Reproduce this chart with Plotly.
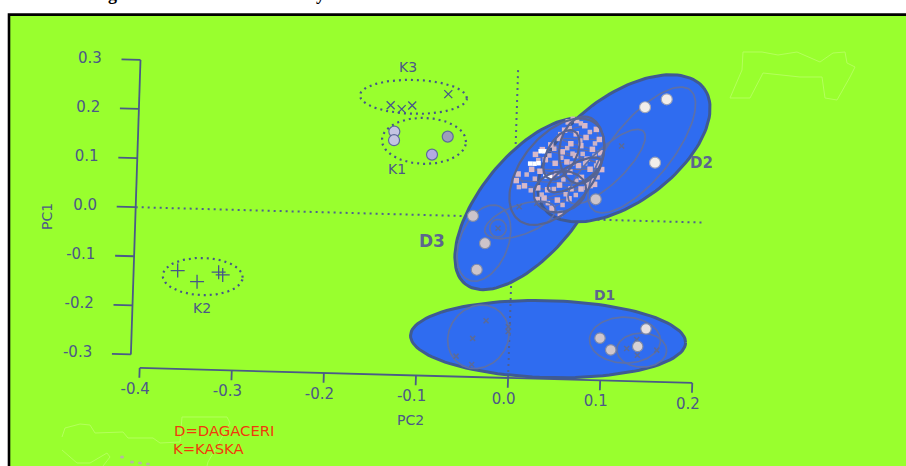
import numpy as np
import plotly.graph_objects as go

W, H = 906, 466

# ---- tick values ----
pc2_ticks = [-0.4, -0.3, -0.2, -0.1, 0.0, 0.1, 0.2]
pc1_ticks = [-0.3, -0.2, -0.1, 0.0, 0.1, 0.2, 0.3]
pc2_labels = ["-0.4", "-0.3", "-0.2", "-0.1", "0.0", "0.1", "0.2"]
pc1_labels = ["-0.3", "-0.2", "-0.1", "0.0", "0.1", "0.2", "0.3"]

# ---- scores (PC2, PC1) ----
k1_pc2 = [-0.1321, -0.1321, -0.0740, -0.0904]
k1_pc1 = [0.1680, 0.1505, 0.1608, 0.1233]
k1_fill = ["#c4c4e2", "#c4c4e2", "#9d9dba", "#b4aae2"]
k2_pc2 = [-0.3622, -0.3408, -0.3177, -0.3132]
k2_pc1 = [-0.1268, -0.1482, -0.1278, -0.1331]
k3_pc2 = [-0.1370, -0.1249, -0.1136, -0.0749]
k3_pc1 = [0.2216, 0.2141, 0.2220, 0.2472]
d2_pc2 = [0.1390, 0.1623, 0.1518]
d2_pc1 = [0.2314, 0.2488, 0.1191]
d3_pc2 = [0.0888, -0.0438, -0.0298, -0.0378]
d3_pc1 = [0.0414, 0.0007, -0.0542, -0.1085]
d1_pc2 = [0.1479, 0.0983, 0.1104, 0.1395]
d1_pc1 = [-0.2195, -0.2409, -0.2642, -0.2557]
d_fill = ["#e6e0e2", "#cfc6cc", "#cfc6cc", "#d8d2d4"]

# small dark marks inside the D groups
marks_pc2 = [0.1276, 0.1382, 0.1603, 0.1394, -0.0259, -0.0398, -0.0572, -0.0400,
             -0.0015, -0.0015, 0.1150, -0.0162, 0.0060, 0.0250]
marks_pc1 = [-0.2604, -0.2416, -0.2622, -0.2735, -0.2119, -0.2484, -0.2854, -0.3015,
             -0.2229, -0.2325, 0.1513, -0.0228, 0.0220, 0.0300]

# speckled area of the overlapping central ellipses
speck_pc2 = [.0562, .0653, .0743, .0526, .0653, .0761, .0870, .0906, .0472, .0598, .0707, .0834,
             .0924, .0381, .0508, .0653, .0779, .0906, .0291, .0218, .0327, .0435, .0562, .0689,
             .0816, .0942, .0182, .0273, .0454, .0598, .0725, .0834, .0870, .0019, .0037, .0110,
             .0255, .0363, .0490, .0616, .0725, .0327, .0472, .0598, .0417, .0508, .0255]
speck_pc1 = [.1973, .2006, .1905, .1803, .1735, .1667, .1837, .1633, .1633, .1531, .1497, .1429,
             .1362, .1497, .1362, .1294, .1226, .1158, .1395, .1294, .1192, .1124, .1158, .1090,
             .1022, .1022, .0988, .0954, .0920, .0954, .0852, .0785, .0717, .0751, .0886, .0649,
             .0615, .0581, .0683, .0615, .0615, .0411, .0377, .0411, .0207, .0106, .0377]
speck2_pc2 = [.0610, .0700, .0800, .0580, .0480, .0700, .0860, .0420, .0560, .0620, .0730, .0860,
              .0250, .0370, .0500, .0620, .0760, .0880, .0130, .0220, .0400, .0530, .0670, .0790,
              .0900, .0050, .0180, .0300, .0430, .0560, .0670, .0370, .0530, .0780, .0830, .0810, .0850]
speck2_pc1 = [.2040, .1950, .1780, .1850, .1720, .1600, .1550, .1420, .1440, .1330, .1330, .1300,
              .1180, .1280, .1240, .1130, .1140, .1100, .0880, .0800, .0850, .0800, .0780, .0700,
              .0860, .0620, .0560, .0480, .0600, .0500, .0490, .0310, .0280, .0640, .0680, .0730, .0790]
white_pc2 = [.0164, .0211, .0255, .0273, .0316, .0334, .0381]
white_pc1 = [.1104, .1104, .1117, .1362, .1362, .0852, .0852]

# ellipses: centre (pc2, pc1), semi-axis vector u, semi-axis vector v
dotted_ell = [
    (-0.1126, 0.2398, 0.0580, 0.0, 0.0, 0.0346),
    (-0.0996, 0.1508, 0.0456, 0.0, 0.0, 0.0468),
    (-0.3348, -0.1375, 0.0434, 0.0, 0.0, 0.0379),
]
big_d1 = (0.0420, -0.2457, 0.1493, 0.0, 0.0, 0.0784)
big_d3 = (0.0178, 0.0284, 0.0677, 0.1664, 0.0423, -0.0608)
big_d2 = (0.1176, 0.1467, 0.0847, 0.1265, 0.0360, -0.0850)
central_ell = [
    (0.0457, 0.0954, 0.0399, 0.1005, 0.0312, -0.0439),
    (0.0718, 0.1410, 0.0042, 0.0681, 0.0240, -0.0059),
    (0.0497, 0.0548, 0.0280, 0.0116, 0.0040, -0.0405),
    (0.0500, 0.1300, 0.0120, 0.0500, 0.0150, -0.0100),
    (0.0650, 0.0900, 0.0280, 0.0320, 0.0060, -0.0180),
]
outer_ell = [
    (0.0995, 0.1084, 0.0389, 0.0733, 0.0124, -0.0259),
    (0.1369, 0.1443, 0.0505, 0.1248, 0.0260, -0.0372),
    (-0.0310, -0.0539, 0.0150, 0.0762, 0.0245, -0.0170),
    (0.0074, -0.0049, 0.0375, 0.0270, 0.0059, -0.0282),
    (-0.0162, -0.0228, 0.0090, 0.0, 0.0, 0.0180),
    (-0.0337, -0.2448, 0.0098, 0.0636, 0.0317, -0.0127),
    (0.1255, -0.2436, 0.0385, 0.0, 0.0, 0.0468),
    (0.1440, -0.2630, 0.0271, 0.0, 0.0, 0.0346),
]

# faint map outlines in the background (page pixels)
map_a_x = [743, 762, 778, 797, 820, 833, 845, 847, 855, 850, 837, 825, 822, 800, 763, 750, 730, 742, 743]
map_a_y = [52, 52, 55, 52, 62, 53, 52, 63, 67, 77, 100, 98, 77, 77, 73, 98, 98, 70, 52]
map_b_x = [62, 65, 80, 90, 95, 123, 128, 153, 160, 180, 182, 227, 230, 208, 207]
map_b_y = [437, 428, 424, 425, 433, 432, 438, 438, 443, 442, 417, 417, 423, 462, 466]
map_c_x = [62, 77, 90, 107, 110, 103]
map_c_y = [450, 463, 463, 453, 457, 466]
spot_x = [122, 132, 140, 148]
spot_y = [457, 462, 463, 464]

BLUE = "#2f6cf0"
EDGE = "#3f5a92"
INNER = "#566492"
OUTER = "#5c70a8"
INK = "#4c5888"
GREEN = "#99ff2e"

# the printed axes lean slightly: PC2 rises 25 px/unit, PC1 leans 16 px/unit
LEAN_X = 16 / 921
LEAN_Y = 25 / 491


def lean(a, b):
    a, b = np.asarray(a, float), np.asarray(b, float)
    return a + LEAN_X * b, b - LEAN_Y * a


def ellipse(e):
    t = np.linspace(0, 2 * np.pi, 121)
    cx, cy, ux, uy, vx, vy = e
    return lean(cx + ux * np.cos(t) + vx * np.sin(t), cy + uy * np.cos(t) + vy * np.sin(t))


def segs(pairs):
    xs, ys = [], []
    for (a0, b0), (a1, b1) in pairs:
        x, y = lean([a0, a1], [b0, b1])
        xs += [x[0], x[1], None]
        ys += [y[0], y[1], None]
    return xs, ys


fig = go.Figure()
nolegend = dict(showlegend=False, hoverinfo="skip")

# axes
Y_AXIS, Y_TICK = -0.410, -0.4306
X_AXIS, X_TICK = -0.327, -0.347
pairs = [((Y_AXIS, min(pc1_ticks)), (Y_AXIS, max(pc1_ticks))),
         ((min(pc2_ticks), X_AXIS), (max(pc2_ticks), X_AXIS))]
pairs += [((Y_AXIS, v), (Y_TICK, v)) for v in pc1_ticks]
pairs += [((v, X_AXIS), (v, X_TICK)) for v in pc2_ticks]
x, y = segs(pairs)
fig.add_trace(go.Scatter(x=x, y=y, mode="lines", line=dict(color="#4a5a88", width=1.8), **nolegend))

# tick labels
x, y = lean([Y_AXIS - 0.042] * 7, pc1_ticks)
fig.add_trace(go.Scatter(x=x, y=y, mode="text", text=pc1_labels, textposition="middle left",
                         textfont=dict(family="DejaVu Sans", size=15, color=INK), **nolegend))
x, y = lean(pc2_ticks, [X_AXIS - 0.045] * 7)
fig.add_trace(go.Scatter(x=x - 0.004, y=y, mode="text", text=pc2_labels, textposition="middle center",
                         textfont=dict(family="DejaVu Sans", size=15, color=INK), **nolegend))

# D1 then zero lines then the rest
x, y = ellipse(big_d1)
fig.add_trace(go.Scatter(x=x, y=y, mode="lines", fill="toself", fillcolor=BLUE,
                         line=dict(color=EDGE, width=3), **nolegend))
x, y = segs([((Y_AXIS, 0), (0.208, 0)), ((0, 0.30), (0, -0.325))])
fig.add_trace(go.Scatter(x=x, y=y, mode="lines", line=dict(color="#4f6090", width=2, dash="2px 4px"), **nolegend))
for e in (big_d3, big_d2):
    x, y = ellipse(e)
    fig.add_trace(go.Scatter(x=x, y=y, mode="lines", fill="toself", fillcolor=BLUE,
                             line=dict(color=EDGE, width=3), **nolegend))

# speckles
x, y = lean(speck_pc2, speck_pc1)
fig.add_trace(go.Scatter(x=x, y=y, mode="lines", line=dict(color="#6a6f9a", width=1), **nolegend))
fig.add_trace(go.Scatter(x=x, y=y, mode="markers",
                         marker=dict(symbol="square", size=5.5, color="#d9b9c8", line=dict(width=0)), **nolegend))
x, y = lean(speck2_pc2, speck2_pc1)
fig.add_trace(go.Scatter(x=x, y=y, mode="markers",
                         marker=dict(symbol="square", size=4.5, color="#cdb4c6", line=dict(width=0)), **nolegend))
x, y = lean(white_pc2, white_pc1)
fig.add_trace(go.Scatter(x=x, y=y, mode="markers",
                         marker=dict(symbol="square", size=4.5, color="#ffffff", line=dict(width=0)), **nolegend))

# inner ellipses
for e in outer_ell:
    x, y = ellipse(e)
    fig.add_trace(go.Scatter(x=x, y=y, mode="lines", line=dict(color=OUTER, width=1.7), **nolegend))
for e in central_ell:
    x, y = ellipse(e)
    fig.add_trace(go.Scatter(x=x, y=y, mode="lines", line=dict(color=INNER, width=2.2), **nolegend))

# dotted ellipses of K groups
for e in dotted_ell:
    x, y = ellipse(e)
    fig.add_trace(go.Scatter(x=x, y=y, mode="lines", line=dict(color="#45568a", width=2.2, dash="2px 4px"), **nolegend))

# points
x, y = lean(k3_pc2, k3_pc1)
fig.add_trace(go.Scatter(x=x, y=y, mode="markers",
                         marker=dict(symbol="x-thin", size=8, line=dict(color="#45568a", width=1.3)), **nolegend))
x, y = lean(k2_pc2, k2_pc1)
fig.add_trace(go.Scatter(x=x, y=y, mode="markers",
                         marker=dict(symbol="cross-thin", size=10, line=dict(color="#45568a", width=1.3)), **nolegend))
x, y = lean(marks_pc2, marks_pc1)
fig.add_trace(go.Scatter(x=x, y=y, mode="markers",
                         marker=dict(symbol="x-thin", size=5, line=dict(color="#5a6a98", width=1.5)), **nolegend))
x, y = lean(k1_pc2, k1_pc1)
fig.add_trace(go.Scatter(x=x, y=y, mode="markers",
                         marker=dict(size=11, color=k1_fill, line=dict(color="#5d6b99", width=1.2)), **nolegend))
x, y = lean(d2_pc2, d2_pc1)
fig.add_trace(go.Scatter(x=x, y=y, mode="markers",
                         marker=dict(size=11, color="#f2eeea", line=dict(color="#9aa2b8", width=1.2)), **nolegend))
x, y = lean(d3_pc2, d3_pc1)
fig.add_trace(go.Scatter(x=x, y=y, mode="markers",
                         marker=dict(size=11, color="#cdc4ca", line=dict(color="#7f8aa8", width=1.2)), **nolegend))
x, y = lean(d1_pc2, d1_pc1)
fig.add_trace(go.Scatter(x=x, y=y, mode="markers",
                         marker=dict(size=10.5, color=d_fill, line=dict(color="#7f8aa8", width=1.2)), **nolegend))


def page_text(s, px, py, size=14, color=INK, anchor="center", angle=0, family="DejaVu Sans", weight=None):
    return dict(text=f"<b>{s}</b>" if weight else s, xref="paper", yref="paper", x=px / W, y=1 - py / H,
                xanchor=anchor, yanchor="middle", showarrow=False, textangle=angle,
                font=dict(family=family, size=size, color=color))


annotations = [
    page_text("K3", 408, 67),
    page_text("K1", 397, 169),
    page_text("K2", 202, 308),
    page_text("D1", 604, 295, size=14, color="#5c668e", weight=True),
    page_text("D2", 701, 163, size=15, color="#5c668e", weight=True),
    page_text("D3", 432, 241, size=17, color="#5c668e", weight=True),
    page_text("PC2", 410, 420),
    page_text("PC1", 47, 217, angle=-90),
    page_text("D=DAGACERI", 172, 430, size=14.8, color="#f03a0c", anchor="left"),
    page_text("K=KASKA", 171, 448, size=14.8, color="#f03a0c", anchor="left"),
    page_text("g", 112, -6, size=18, color="#000000", family="Liberation Serif", weight=True),
    page_text("y", 320, -6, size=18, color="#000000", family="Liberation Serif", weight=True),
]


def page_path(xs, ys):
    pts = [f"{a / W},{1 - b / H}" for a, b in zip(xs, ys)]
    return "M" + " L".join(pts)


shapes = [
    dict(type="rect", xref="paper", yref="paper", x0=9 / W, x1=1.02, y0=-0.02, y1=1 - 14.6 / H,
         fillcolor=GREEN, line=dict(color="#000000", width=2.6), layer="below"),
]
for xs, ys in ((map_a_x, map_a_y), (map_b_x, map_b_y), (map_c_x, map_c_y)):
    shapes.append(dict(type="path", xref="paper", yref="paper", path=page_path(xs, ys),
                       line=dict(color="#b4ff5c", width=1), layer="below"))
for a, b in zip(spot_x, spot_y):
    shapes.append(dict(type="circle", xref="paper", yref="paper", x0=(a - 2) / W, x1=(a + 2) / W,
                       y0=1 - (b + 1.5) / H, y1=1 - (b - 1.5) / H,
                       fillcolor="#b4b8a0", line=dict(width=0), layer="below"))

axis = dict(visible=False, showgrid=False, zeroline=False, fixedrange=True)
fig.update_layout(
    width=W, height=H, autosize=False,
    margin=dict(l=0, r=0, t=0, b=0),
    paper_bgcolor="#ffffff", plot_bgcolor="rgba(0,0,0,0)",
    showlegend=False,
    xaxis=dict(range=[(0 - 513.3) / 921, (W - 513.3) / 921], **axis),
    yaxis=dict(range=[(217.4 - H) / 491, 217.4 / 491], **axis),
    annotations=annotations, shapes=shapes,
)
fig.write_html("out.html", config=dict(displayModeBar=False),
               post_script="document.body.style.margin='0';document.body.style.overflow='hidden';")
